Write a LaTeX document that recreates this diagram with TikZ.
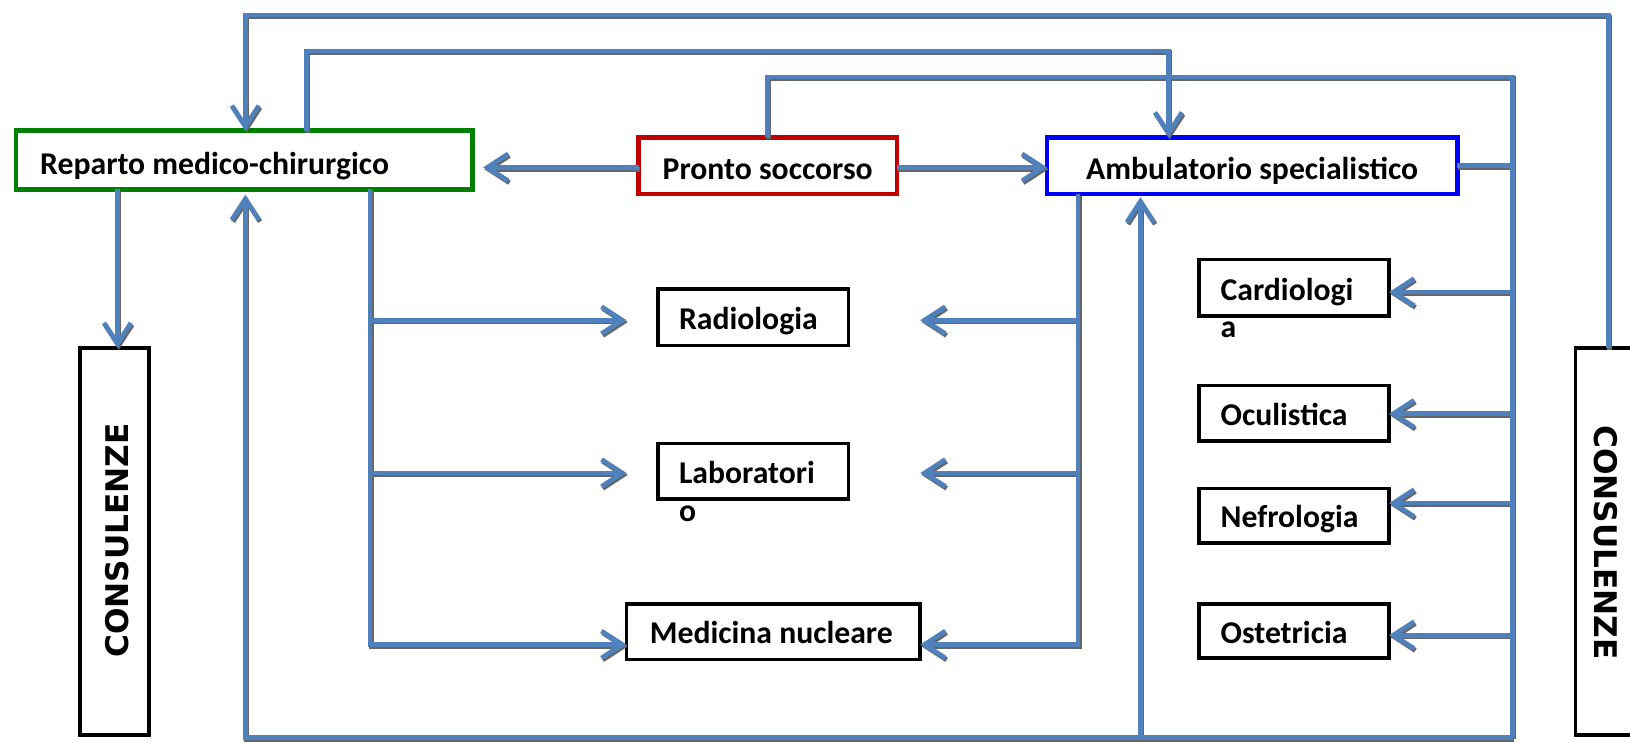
\documentclass[tikz,border=0pt]{standalone}
\usepackage{fontspec}
\setmainfont{Carlito}
\newfontfamily\consfont{DejaVu Sans}
\usetikzlibrary{arrows.meta}
\definecolor{lineblue}{HTML}{4F81BD}
\definecolor{boxgreen}{HTML}{008000}
\definecolor{boxred}{HTML}{C00000}
\definecolor{boxblue}{HTML}{0000FF}
\tikzset{
  bx/.style={draw=black, line width=3.5pt, inner sep=0pt, outer sep=0pt},
  lbl/.style={inner sep=0pt, font=\fontsize{30.5}{37}\selectfont\bfseries},
  cons/.style={inner sep=0pt, font=\consfont\bfseries\fontsize{30}{36}\selectfont},
  ln/.style={draw=lineblue, line width=4.5pt},
  arr/.style={ln, -{Straight Barb[length=20pt,width=26pt]}},
}
\newcommand{\myconnectors}{%
\draw[arr] (rcons.north -| xRC) -- (xRC |- yT1) -- (xL |- yT1) -- (rep.north -| xL);
\draw[arr] (rep.north -| xR2) -- (xR2 |- yT2) -- (xA |- yT2) -- (amb.north -| xA);
\draw[ln] (pro.north -| xP) -- (xP |- yT3) -- (xRB |- yT3) -- (xRB |- yB);
\draw[ln] (amb.east) -- (amb.east -| xRB);
\draw[arr] (pro.west |- yPA) -- ([xshift=10pt]rep.east |- yPA);
\draw[arr] (pro.east |- yPA) -- (amb.west |- yPA);
\draw[arr] (rep.south -| xLC) -- (lcons.north -| xLC);
\draw[arr] (rep.south -| xLB) |- (med.west |- yMed);
\draw[arr] (xLB |- yRad) -- ([xshift=-30pt]rad.west |- yRad);
\draw[arr] (xLB |- yLab) -- ([xshift=-30pt]lab.west |- yLab);
\draw[arr] (amb.south -| xAB) |- (med.east |- yMed);
\draw[arr] (xAB |- yRad) -- ([xshift=69pt]rad.east |- yRad);
\draw[arr] (xAB |- yLab) -- ([xshift=69pt]lab.east |- yLab);
\draw[arr] (xRB |- yB) -- (xL |- yB) -- ([yshift=-5pt]rep.south -| xL);
\draw[arr] (xAL |- yB) -- ([yshift=-3pt]amb.south -| xAL);
\draw[arr] (xRB |- yCar) -- (car.east |- yCar);
\draw[arr] (xRB |- yOcu) -- (ocu.east |- yOcu);
\draw[arr] (xRB |- yNef) -- (nef.east |- yNef);
\draw[arr] (xRB |- yOst) -- (ost.east |- yOst);
}
\begin{document}
\begin{tikzpicture}[x=1pt,y=-1pt]
\useasboundingbox (0,0) rectangle (1568,713);
% boxes
\node[bx, draw=boxgreen, line width=4.5pt, minimum width=439.5pt, minimum height=56.5pt] (rep) at (235,154) {};
\node[bx, draw=boxred, line width=4.5pt, minimum width=248.5pt, minimum height=54.5pt] (pro) at (738.5,159.5) {};
\node[bx, draw=boxblue, line width=4.5pt, minimum width=394.5pt, minimum height=54.5pt] (amb) at (1204.5,159.5) {};
\node[bx, minimum width=183.5pt, minimum height=54.5pt] (rad) at (724.5,305) {};
\node[bx, minimum width=183.5pt, minimum height=53.5pt] (lab) at (724.5,453.5) {};
\node[bx, minimum width=282.5pt, minimum height=53.5pt] (med) at (744,607.5) {};
\node[bx, minimum width=183pt, minimum height=54.5pt] (car) at (1244.75,277) {};
\node[bx, minimum width=183pt, minimum height=53.5pt] (ocu) at (1244.75,397.5) {};
\node[bx, minimum width=183pt, minimum height=52.5pt] (nef) at (1244.75,496) {};
\node[bx, minimum width=183pt, minimum height=52.5pt] (ost) at (1244.75,607) {};
\node[bx, minimum width=66.5pt, minimum height=372.5pt] (lcons) at (110,521) {};
\node[bx, minimum width=92pt, minimum height=372.5pt] (rcons) at (1561.5,521) {};
% texts
\node[lbl, anchor=base west] (repT) at (38.5,168) {Reparto medico-chirurgico};
\node[lbl, anchor=base] (proT) at (738.5,173) {Pronto soccorso};
\node[lbl, anchor=base] (ambT) at (1204.5,173) {Ambulatorio specialistico};
\node[lbl, anchor=base west] (radT) at (653,317) {Radiologia};
\node[lbl, anchor=base west] (labT) at (653,465) {Laboratori};
\node[lbl, anchor=base west] (labT2) at (653,502) {o};
\node[lbl, anchor=base] (medT) at (742,619) {Medicina nucleare};
\node[lbl, anchor=base west] (carT) at (1174,289) {Cardiologi};
\node[lbl, anchor=base west] (carT2) at (1174,325) {a};
\node[lbl, anchor=base west] (ocuT) at (1174,409) {Oculistica};
\node[lbl, anchor=base west] (nefT) at (1174,507) {Nefrologia};
\node[lbl, anchor=base west] (ostT) at (1174,619) {Ostetricia};
\node[cons, rotate=90] (lconsT) at (113,520) {CONSULENZE};
\node[cons, rotate=-90] (rconsT) at (1545,522) {CONSULENZE};
% helper coordinates
\coordinate (yT1) at (0,14.4);
\coordinate (yT2) at (0,49);
\coordinate (yT3) at (0,74);
\coordinate (yB) at (0,709.5);
\coordinate (yPA) at (0,161);
\coordinate (yRad) at (0,308);
\coordinate (yLab) at (0,455);
\coordinate (yMed) at (0,620);
\coordinate (yCar) at (0,281);
\coordinate (yOcu) at (0,398);
\coordinate (yNef) at (0,484);
\coordinate (yOst) at (0,611);
\coordinate (xL) at (236,0);
\coordinate (xR2) at (295,0);
\coordinate (xA) at (1124,0);
\coordinate (xP) at (738,0);
\coordinate (xRB) at (1455,0);
\coordinate (xRC) at (1547,0);
\coordinate (xLB) at (356,0);
\coordinate (xAB) at (1037,0);
\coordinate (xAL) at (1097,0);
\coordinate (xLC) at (113,0);
% connector shadows
\begin{scope}[transform canvas={xshift=1.2pt,yshift=-1.8pt}, ln/.style={draw=black!60, line width=4.5pt}]
\myconnectors
\end{scope}
% connectors
\myconnectors
\end{tikzpicture}
\end{document}
